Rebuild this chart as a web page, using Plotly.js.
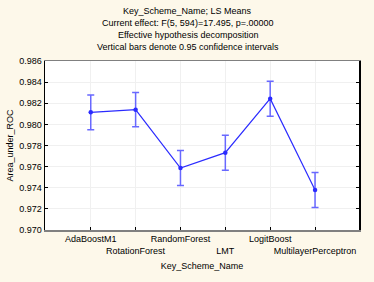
<!DOCTYPE html>
<html><head><meta charset="utf-8">
<script src="https://cdn.plot.ly/plotly-3.0.1.min.js"></script>
<style>html,body{margin:0;padding:0;background:#FDF8EA;}</style>
</head><body>
<div id="chart" style="width:374px;height:282px;"></div>
<script>
const categories = ["AdaBoostM1","RotationForest","RandomForest","LMT","LogitBoost","MultilayerPerceptron"];
const lsMeans = [0.98114, 0.98139, 0.97587, 0.97732, 0.98243, 0.97379];
const ciHalfWidth = [0.00164, 0.00162, 0.00166, 0.00166, 0.00165, 0.00166];
const yTicks = [0.970,0.972,0.974,0.976,0.978,0.980,0.982,0.984,0.986];
const titleLines = ["Key_Scheme_Name; LS Means","Current effect: F(5, 594)=17.495, p=.00000","Effective hypothesis decomposition","Vertical bars denote 0.95 confidence intervals"];

const xIdx = categories.map((c,i)=>i);
const tickText = categories.map((c,i)=> i%2 ? "<br>"+c : c);

const trace = {
  x: xIdx, y: lsMeans, type:'scatter', mode:'lines+markers',
  line:{color:'#2b2bff', width:1.2},
  marker:{color:'#2b2bff', size:4.5, symbol:'circle'},
  error_y:{type:'data', array:ciHalfWidth, visible:true, color:'#6868ff', thickness:1.5, width:3.5}
};
const fam = '"Liberation Sans", Arial, sans-serif';
const font = {family:fam, size:9, color:'#000'};
const titleRows = [11, 23, 35, 47];
const annotations = titleLines.map((t,i)=>({
  text:t, xref:'paper', yref:'paper', x:0.455, y:(230-titleRows[i])/169,
  xanchor:'center', yanchor:'middle', showarrow:false, font:{family:fam,size:9,color:'#000'}
}));
const layout = {
  width:374, height:282,
  paper_bgcolor:'#FDF8EA', plot_bgcolor:'#ffffff',
  margin:{l:45, r:15, t:61, b:52},
  font: font,
  showlegend:false,
  annotations: annotations,
  xaxis:{range:[-1.02,5.98], tickvals:xIdx, ticktext:tickText, tickangle:0, ticks:'inside', ticklen:3, tickcolor:'#000',
    showline:true, mirror:true, linecolor:'#808080', linewidth:1.5, showgrid:true, gridcolor:'#f0f0f0', zeroline:false,
    tickfont:{family:fam,size:9,color:'#000'}, automargin:false,
    title:{text:'Key_Scheme_Name', font:{family:fam,size:9,color:'#000'}, standoff:7}},
  yaxis:{range:[0.970,0.986], tickvals:yTicks, ticktext:yTicks.map(v=>v.toFixed(3)), ticks:'inside', ticklen:3, tickcolor:'#000',
    showline:true, mirror:'ticks', linecolor:'#000', linewidth:1.5, showgrid:true, gridcolor:'#f0f0f0', zeroline:false,
    tickfont:{family:fam,size:9,color:'#000'}, automargin:false,
    title:{text:'Area_under_ROC', font:{family:fam,size:9,color:'#000'}, standoff:4}}
};
Plotly.newPlot('chart',[trace],layout,{displayModeBar:false, staticPlot:true});
</script>
</body></html>
